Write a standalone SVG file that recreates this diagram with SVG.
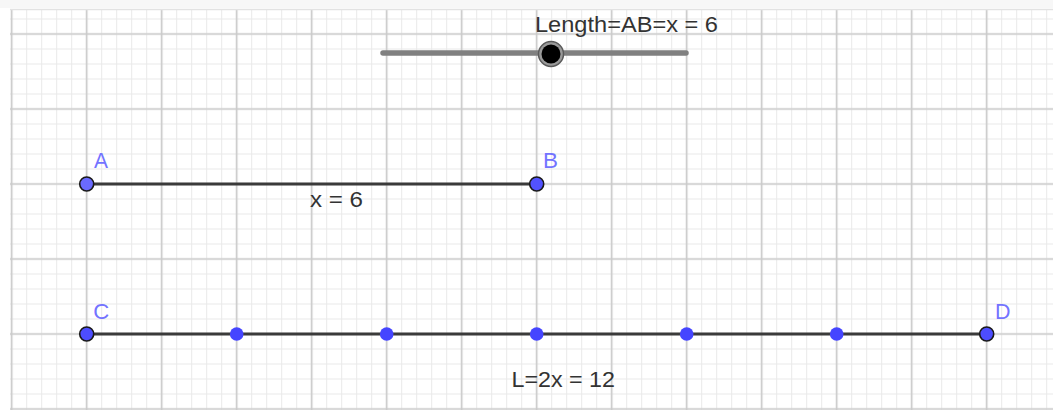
<svg xmlns="http://www.w3.org/2000/svg" width="1053" height="412" viewBox="0 0 1053 412">
<style>
.txt{font-family:"Liberation Sans",Arial,sans-serif;font-size:21.5px;fill:#333333}
.lbl{font-family:"Liberation Sans",Arial,sans-serif;font-size:22px;fill:#7373ff}
.seg{stroke:#3a3a3a;stroke-width:3;fill:none;stroke-linecap:butt}
.endpt{stroke:#1a1a1a;stroke-width:1.6}
.midpt{fill:#4545ff}
</style>
<defs>
<pattern id="minor" patternUnits="userSpaceOnUse" x="4.2" y="26.5" width="15" height="15">
<path d="M7.5 0V15M0 7.5H15" stroke="#e9e9e9" stroke-width="1" fill="none"/>
</pattern>
<pattern id="major" patternUnits="userSpaceOnUse" x="-25.8" y="-3.5" width="75" height="75">
<path d="M37.5 0V75M0 37.5H75" stroke="#c9c9c9" stroke-width="1.6" fill="none"/>
</pattern>
</defs>
<rect x="0" y="0" width="1053" height="412" fill="#ffffff"/>
<rect x="0" y="0" width="1053" height="8" fill="#f7f7f7"/>
<g id="grid">
<rect x="10" y="10" width="1043" height="400" fill="url(#minor)"/>
<rect x="10" y="10" width="1043" height="400" fill="url(#major)"/>
<line x1="10" y1="9.5" x2="1053" y2="9.5" stroke="#e2e2e2" stroke-width="1.5"/>
</g>
<g id="slider">
<line x1="383" y1="53" x2="686" y2="53" stroke="#808080" stroke-width="5.5" stroke-linecap="round"/>
<circle cx="551" cy="54" r="12.5" fill="#9a9a9a" stroke="#5a5a5a" stroke-width="1.5"/>
<circle cx="551" cy="54" r="9.5" fill="#000000"/>
<text class="txt" x="535" y="32" textLength="183" lengthAdjust="spacingAndGlyphs">Length=AB=x = 6</text>
</g>
<g id="connectors">
<line class="seg" x1="86.7" y1="184" x2="536.7" y2="184"/>
<line class="seg" x1="86.7" y1="334" x2="986.7" y2="334"/>
</g>
<text class="txt" x="310" y="206.5" textLength="53" lengthAdjust="spacingAndGlyphs">x = 6</text>
<text class="txt" x="511.5" y="387" textLength="103.5" lengthAdjust="spacingAndGlyphs">L=2x = 12</text>
<g id="midpoints">
<circle class="midpt" cx="236.7" cy="334" r="6.8"/>
<circle class="midpt" cx="386.7" cy="334" r="6.8"/>
<circle class="midpt" cx="536.7" cy="334" r="6.8"/>
<circle class="midpt" cx="686.7" cy="334" r="6.8"/>
<circle class="midpt" cx="836.7" cy="334" r="6.8"/>
</g>
<g id="A">
<circle class="endpt" cx="86.7" cy="184" r="7" fill="#6a6aff"/>
<text class="lbl" x="94" y="167.5" textLength="14" lengthAdjust="spacingAndGlyphs">A</text>
</g>
<g id="B">
<circle class="endpt" cx="536.7" cy="184" r="7" fill="#5252ff"/>
<text class="lbl" x="543" y="167.5" textLength="15" lengthAdjust="spacingAndGlyphs">B</text>
</g>
<g id="C">
<circle class="endpt" cx="86.7" cy="334" r="7" fill="#4d4dff"/>
<text class="lbl" x="93.3" y="318.5" textLength="16" lengthAdjust="spacingAndGlyphs">C</text>
</g>
<g id="D">
<circle class="endpt" cx="986.7" cy="334" r="7" fill="#4d4dff"/>
<text class="lbl" x="995" y="318.5" textLength="15.5" lengthAdjust="spacingAndGlyphs">D</text>
</g>
</svg>
